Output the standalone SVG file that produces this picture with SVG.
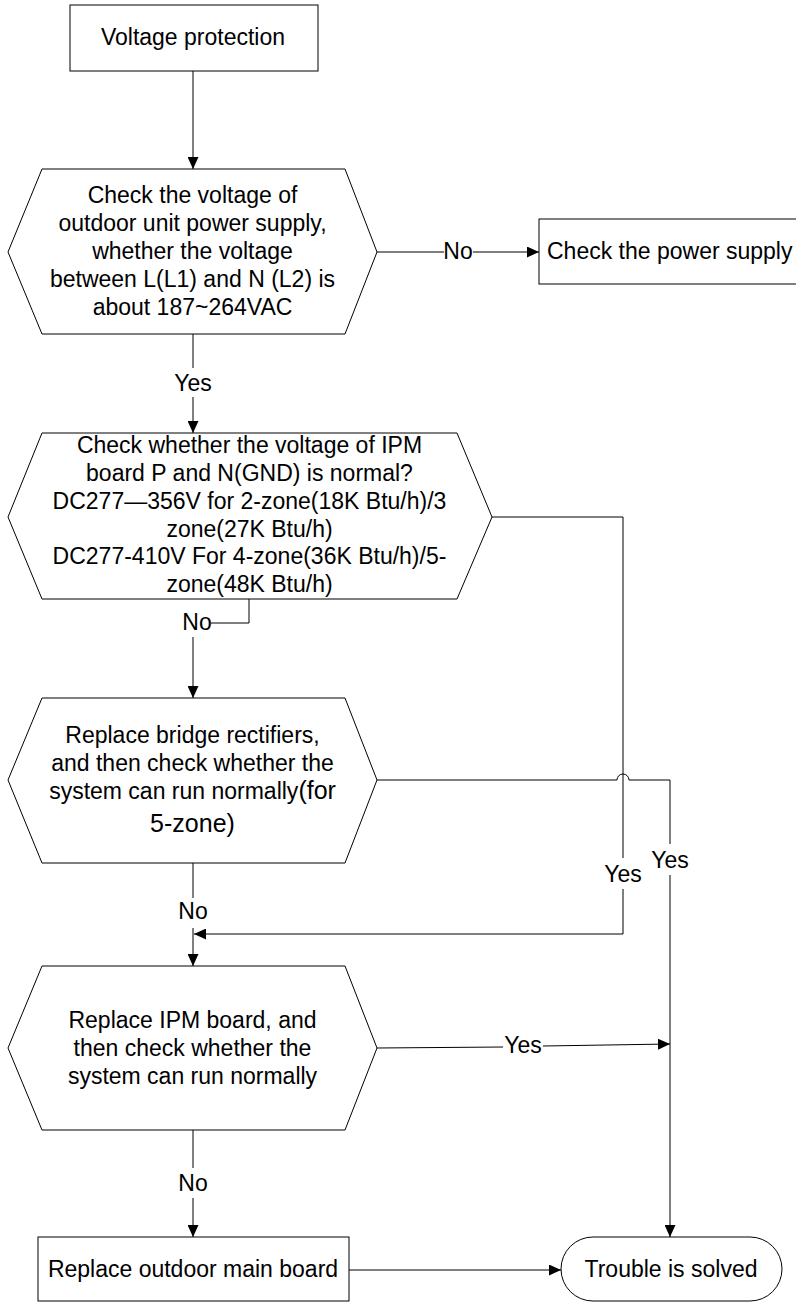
<svg xmlns="http://www.w3.org/2000/svg" width="796" height="1302" viewBox="0 0 796 1302">
<defs>
<style>
.n{fill:#fff;stroke:#000;stroke-width:1}
.t{font-family:"Liberation Sans",Arial,sans-serif;font-size:23px;fill:#000;text-anchor:middle}
.c{fill:none;stroke:#000;stroke-width:1}
.a{marker-end:url(#arr)}
</style>
<marker id="arr" viewBox="0 0 12 11" refX="12" refY="5.5" markerWidth="12" markerHeight="11" markerUnits="userSpaceOnUse" orient="auto">
<path d="M0,0 L12,5.5 L0,11 z" fill="#000"/>
</marker>
</defs>
<rect width="796" height="1302" fill="#fff"/>
<g id="connectors">
<path class="c a" d="M193,71 V169"/>
<path class="c" d="M377,252 H444"/>
<path class="c a" d="M473,252 H539"/>
<path class="c" d="M193,334 V368"/>
<path class="c a" d="M193,397 V433"/>
<path class="c" d="M249,599 V623 H211"/>
<path class="c a" d="M193,637 V698"/>
<path class="c" d="M492,517 H623 V858"/>
<path class="c a" d="M623,889 V934 H194"/>
<path class="c" d="M377,780 H617 A6,6 0 0 1 629,780 H670 V844"/>
<path class="c a" d="M670,875 V1237"/>
<path class="c" d="M193,863 V898"/>
<path class="c a" d="M193,928 V966"/>
<path class="c" d="M377,1048 L503,1047"/>
<path class="c a" d="M543,1046 L670,1044"/>
<path class="c" d="M193,1130 V1168"/>
<path class="c a" d="M193,1198 V1237"/>
<path class="c a" d="M349,1270 H561"/>
<text class="t" x="458" y="259">No</text>
<text class="t" x="193" y="391">Yes</text>
<text class="t" x="197" y="630">No</text>
<text class="t" x="623" y="882">Yes</text>
<text class="t" x="670" y="868">Yes</text>
<text class="t" x="193" y="919">No</text>
<text class="t" x="523" y="1053">Yes</text>
<text class="t" x="193" y="1191">No</text>
</g>
<g id="start">
<rect class="n" x="70" y="5" width="248" height="66"/>
<text class="t" x="193" y="45">Voltage protection</text>
</g>
<g id="check-supply">
<polygon class="n" points="42,169 345,169 377,252 345,334 42,334 8,252"/>
<text class="t" x="192.5" y="203">Check the voltage of</text>
<text class="t" x="192.5" y="231">outdoor unit power supply,</text>
<text class="t" x="192.5" y="259">whether the voltage</text>
<text class="t" x="192.5" y="287">between L(L1) and N (L2) is</text>
<text class="t" x="192.5" y="315">about 187~264VAC</text>
</g>
<g id="power-supply">
<rect class="n" x="539" y="219" width="265" height="65"/>
<text class="t" x="547" y="259" style="text-anchor:start">Check the power supply</text>
</g>
<g id="check-ipm">
<polygon class="n" points="42,433 457,433 492,517 457,599 42,599 8,517"/>
<text class="t" x="249.5" y="453">Check whether the voltage of IPM</text>
<text class="t" x="249.5" y="481">board P and N(GND) is normal?</text>
<text class="t" x="249.5" y="509">DC277—356V for 2-zone(18K Btu/h)/3</text>
<text class="t" x="249.5" y="537">zone(27K Btu/h)</text>
<text class="t" x="249.5" y="564">DC277-410V For 4-zone(36K Btu/h)/5-</text>
<text class="t" x="249.5" y="592">zone(48K Btu/h)</text>
</g>
<g id="replace-bridge">
<polygon class="n" points="42,698 345,698 377,780 345,863 42,863 8,780"/>
<text class="t" x="192.5" y="743">Replace bridge rectifiers,</text>
<text class="t" x="192.5" y="771">and then check whether the</text>
<text class="t" x="192.5" y="799">system can run normally<tspan font-size="25">(for</tspan></text>
<text class="t" x="192.5" y="832" font-size="25" style="font-size:25px">5-zone)</text>
</g>
<g id="replace-ipm">
<polygon class="n" points="42,966 345,966 377,1048 345,1130 42,1130 8,1048"/>
<text class="t" x="192.5" y="1028">Replace IPM board, and</text>
<text class="t" x="192.5" y="1056">then check whether the</text>
<text class="t" x="192.5" y="1084">system can run normally</text>
</g>
<g id="replace-main">
<rect class="n" x="38" y="1237" width="311" height="64"/>
<text class="t" x="193" y="1277">Replace outdoor main board</text>
</g>
<g id="solved">
<rect class="n" x="561" y="1237" width="221" height="64" rx="32" ry="32"/>
<text class="t" x="671" y="1277">Trouble is solved</text>
</g>
</svg>
